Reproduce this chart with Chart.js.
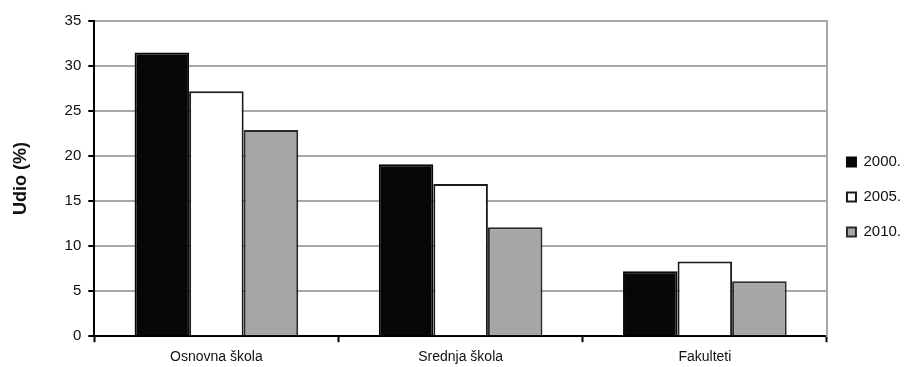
<!DOCTYPE html>
<html>
<head>
<meta charset="utf-8">
<script src="https://cdn.jsdelivr.net/npm/chart.js@4"></script>
<style>
  html, body { margin: 0; padding: 0; background: #fff; }
  #wrap { width: 915px; height: 367px; }
</style>
</head>
<body>
<div id="wrap"><canvas id="grafico"></canvas></div>
<script>
// podaci
var kategorije = ['Osnovna škola', 'Srednja škola', 'Fakulteti'];
var godine = ['2000.', '2005.', '2010.'];
var udio2000 = [31.5, 19.1, 7.2];
var udio2005 = [27.2, 16.9, 8.3];
var udio2010 = [22.9, 12.1, 6.1];

var font = "'Liberation Sans', Arial, sans-serif";
Chart.defaults.font.family = font;
Chart.defaults.color = '#111';

new Chart(document.getElementById('grafico').getContext('2d'), {
    type: 'bar',
    data: {
        labels: kategorije,
        datasets: [{
            label: godine[0],
            data: udio2000,
            backgroundColor: '#060709',
            borderColor: '#060709',
            borderWidth: 2
        }, {
            label: godine[1],
            data: udio2005,
            backgroundColor: '#ffffff',
            borderColor: '#1a1a1a',
            borderWidth: 2
        }, {
            label: godine[2],
            data: udio2010,
            backgroundColor: '#a6a6a6',
            borderColor: '#2a2a2a',
            borderWidth: 2
        }]
    },
    options: {
        responsive: true,
        maintainAspectRatio: false,
        animation: false,
        layout: { padding: { top: 21, left: 10, right: 4, bottom: -6 } },
        datasets: {
            bar: { categoryPercentage: 0.67, barPercentage: 1.0 }
        },
        scales: {
            x: {
                grid: {
                    offset: true,
                    drawOnChartArea: false,
                    drawTicks: true,
                    tickLength: 6,
                    tickColor: '#000',
                    tickWidth: 2
                },
                border: { color: '#000', width: 2 },
                ticks: { font: { size: 14 }, color: '#111', padding: 7 }
            },
            y: {
                min: 0,
                max: 35,
                ticks: { stepSize: 5, font: { size: 15 }, color: '#111', padding: 7 },
                grid: {
                    color: '#a8a8a8',
                    lineWidth: 2,
                    tickColor: '#000',
                    tickLength: 6,
                    tickWidth: 2
                },
                border: { color: '#000', width: 2 },
                title: {
                    display: true,
                    text: 'Udio (%)',
                    font: { size: 18, weight: 'bold' },
                    color: '#111',
                    padding: { top: 0, bottom: 26 }
                }
            },
            y2: {
                position: 'right',
                min: 0,
                max: 35,
                ticks: { display: false },
                grid: { display: false, drawTicks: false },
                border: { color: '#a8a8a8', width: 2 }
            }
        },
        plugins: {
            legend: {
                position: 'right',
                align: 'center',
                labels: {
                    boxWidth: 9,
                    boxHeight: 9,
                    padding: 20,
                    font: { size: 15 },
                    color: '#111'
                }
            },
            tooltip: { enabled: false }
        }
    }
});
</script>
</body>
</html>
